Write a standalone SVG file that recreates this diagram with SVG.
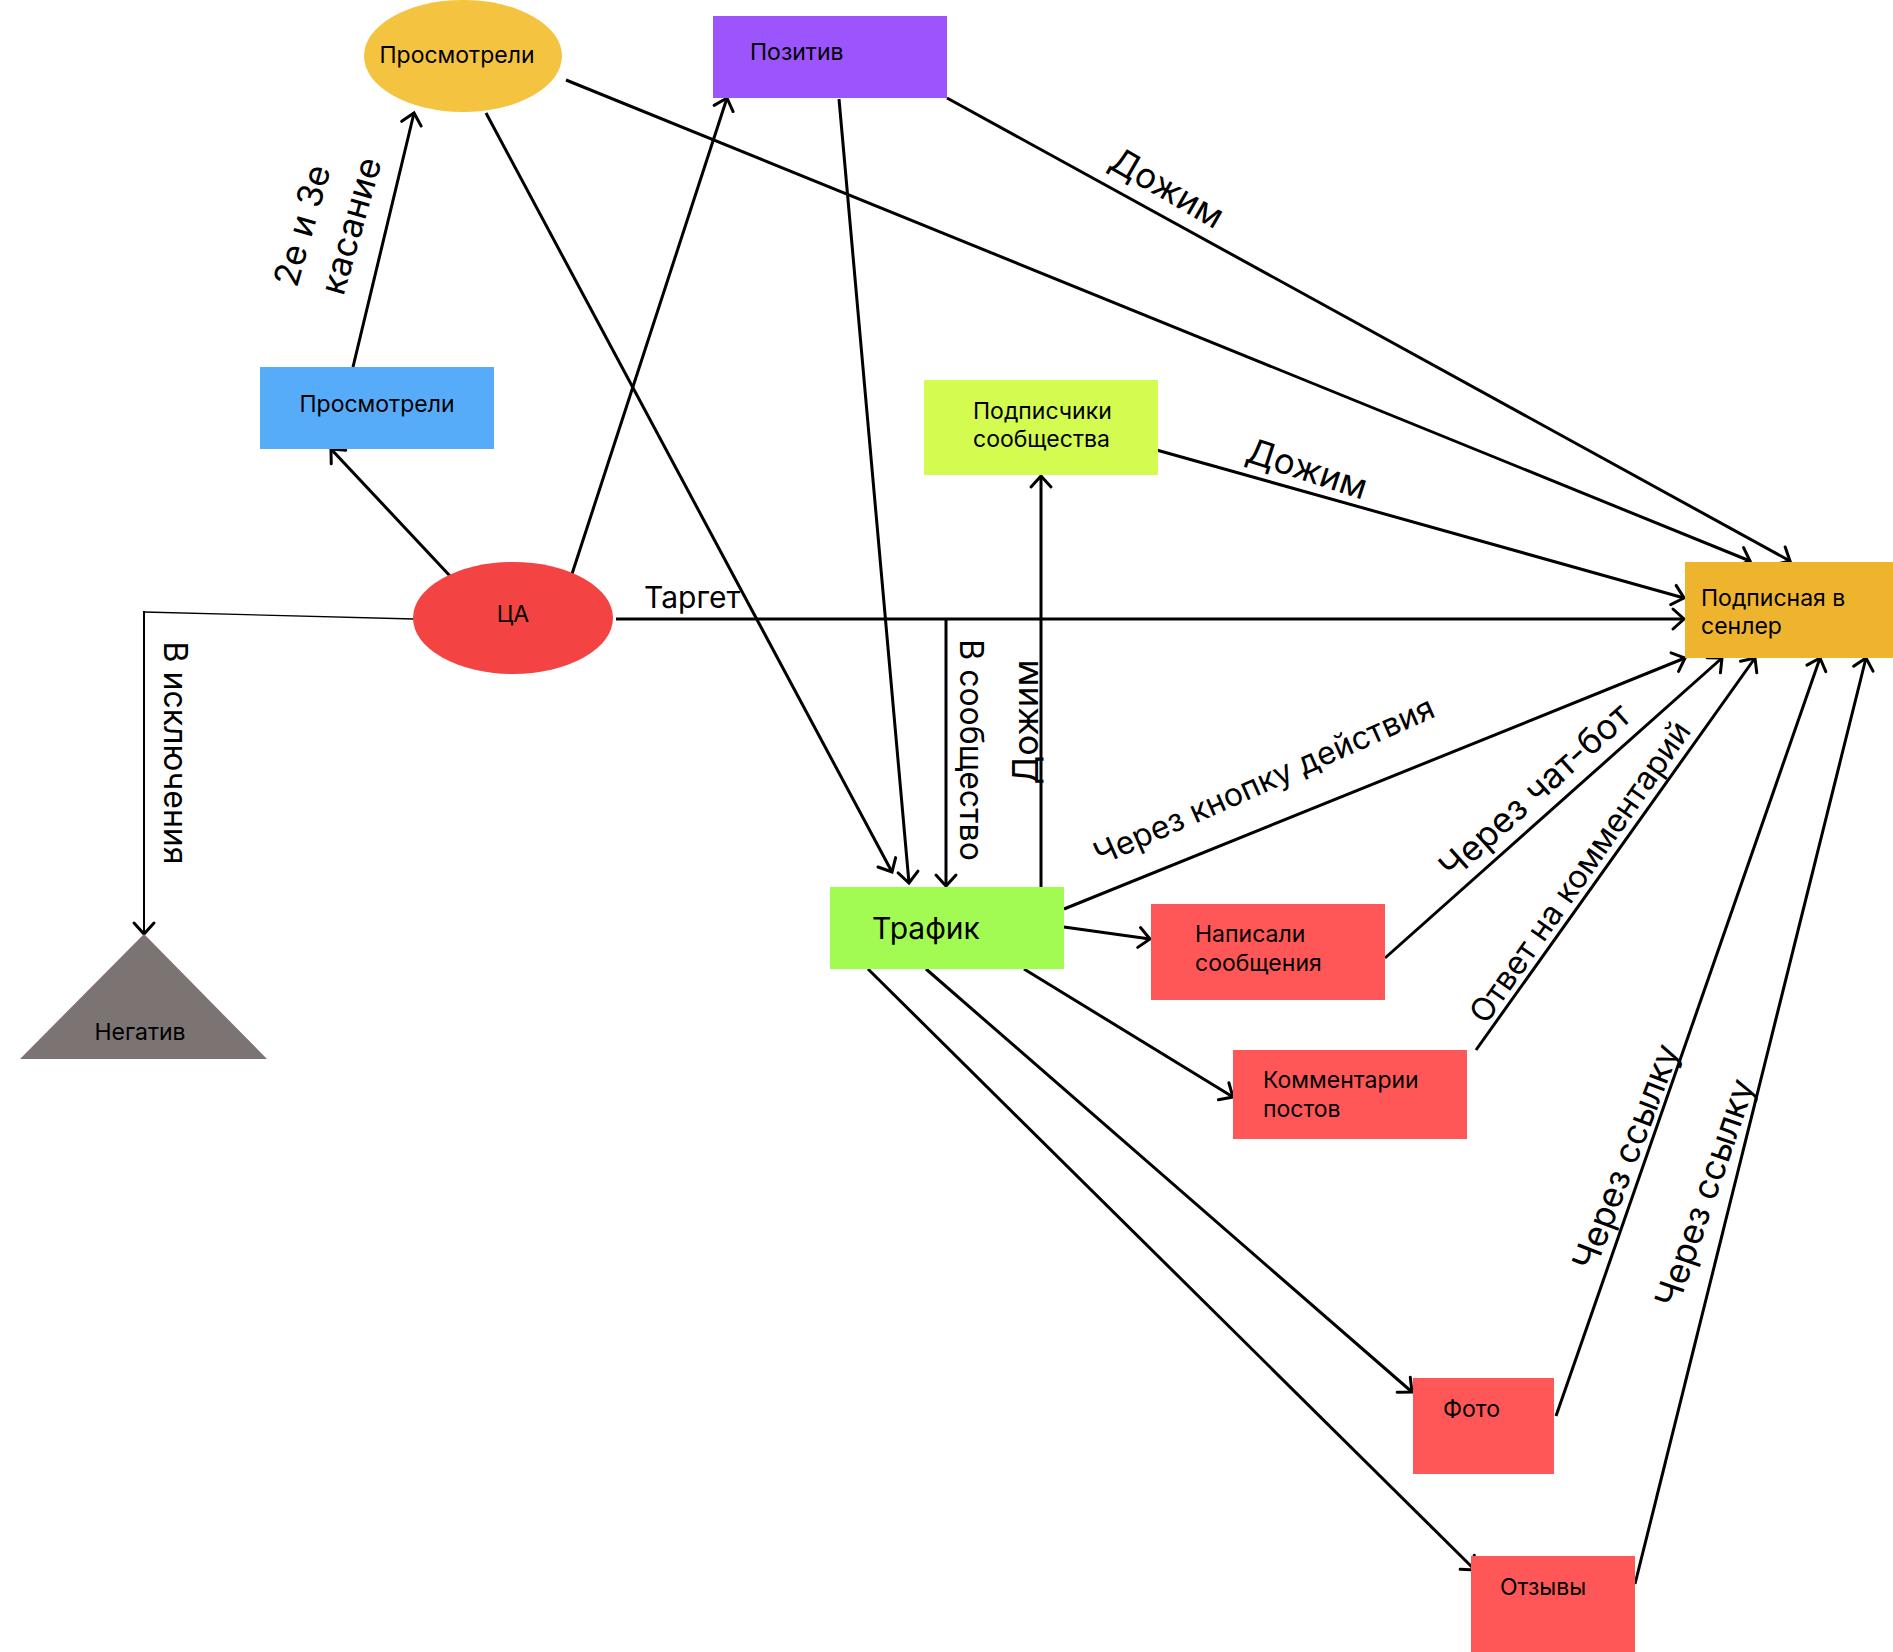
<svg xmlns="http://www.w3.org/2000/svg" width="1893" height="1652" viewBox="0 0 1893 1652">
<defs>
<marker id="arr" markerUnits="userSpaceOnUse" viewBox="-3 -3 18 26" refX="11" refY="10" markerWidth="18" markerHeight="26" orient="auto">
<path d="M0,0 L11,10 L0,20" fill="none" stroke="#000" stroke-width="3" stroke-linecap="round" stroke-linejoin="miter"/>
</marker>
<style>
.n{font-family:Inter,"Noto Sans","Liberation Sans",sans-serif;font-size:23px;fill:#000}
.l{font-family:Inter,"Noto Sans","Liberation Sans",sans-serif;font-size:32px;fill:#000}
.b{font-size:35px}
.ca{fill:none;stroke:#000;stroke-width:3;marker-end:url(#arr)}
</style>
</defs>
<rect width="1893" height="1652" fill="#fff"/>

<g id="connectors">
<line class="ca" x1="353" y1="367" x2="414" y2="113"/>
<line class="ca" x1="451" y1="577" x2="331" y2="449"/>
<line class="ca" x1="571" y1="577" x2="727" y2="98"/>
<line class="ca" x1="486" y1="113" x2="892" y2="872"/>
<line class="ca" x1="839" y1="99" x2="909" y2="883"/>
<line class="ca" x1="566" y1="80" x2="1750" y2="561"/>
<line class="ca" x1="947" y1="98" x2="1790" y2="561"/>
<line class="ca" x1="1153" y1="449" x2="1684" y2="598"/>
<line class="ca" x1="616" y1="619" x2="1684" y2="619"/>
<line x1="414" y1="619" x2="144" y2="612" stroke="#000" stroke-width="1.3"/>
<line x1="144" y1="611" x2="144" y2="934" stroke="#000" stroke-width="2" marker-end="url(#arr)"/>
<line class="ca" x1="946" y1="619" x2="946" y2="886"/>
<line class="ca" x1="1041" y1="887" x2="1041" y2="476"/>
<line class="ca" x1="1064" y1="909" x2="1685" y2="658"/>
<line class="ca" x1="1064" y1="927" x2="1150" y2="939"/>
<line class="ca" x1="1385" y1="958" x2="1722" y2="658"/>
<line class="ca" x1="1476" y1="1050" x2="1755" y2="658"/>
<line class="ca" x1="1024" y1="969" x2="1233" y2="1097"/>
<line class="ca" x1="926" y1="969" x2="1412" y2="1392"/>
<line class="ca" x1="868" y1="969" x2="1475" y2="1570"/>
<line class="ca" x1="1556" y1="1416" x2="1820" y2="658"/>
<line class="ca" x1="1635" y1="1584" x2="1866" y2="658"/>

<g transform="translate(326,226) rotate(-74)">
<text class="l b" x="-6" y="-11" text-anchor="middle">2е и 3е</text>
<text class="l b" x="7" y="36" text-anchor="middle">касание</text>
</g>
<text class="l" x="644" y="608" style="font-size:30px">Таргет</text>
<text class="l b" transform="translate(1167,188) rotate(30)" x="0" y="12" text-anchor="middle">Дожим</text>
<text class="l b" transform="translate(1307,469) rotate(18)" x="0" y="12" text-anchor="middle">Дожим</text>
<text class="l" transform="translate(175,753) rotate(90)" x="0" y="11" text-anchor="middle">В исключения</text>
<text class="l" transform="translate(971,750) rotate(90)" x="0" y="11" text-anchor="middle">В сообщество</text>
<text class="l b" transform="translate(1026,722) rotate(-90)" x="0" y="12" text-anchor="middle">Дожим</text>
<text class="l" transform="translate(1264,781) rotate(-24)" x="0" y="11" text-anchor="middle">Через кнопку действия</text>
<text class="l b" transform="translate(1535,791) rotate(-42)" x="0" y="12" text-anchor="middle">Через чат-бот</text>
<text class="l" transform="translate(1580,872) rotate(-55)" x="0" y="11" text-anchor="middle">Ответ на комментарий</text>
<text class="l b" transform="translate(1626,1157) rotate(-69)" x="0" y="12" text-anchor="middle">Через ссылку</text>
<text class="l b" transform="translate(1705,1193) rotate(-71)" x="0" y="12" text-anchor="middle">Через ссылку</text>
</g>

<g id="node-prosm-ellipse">
<ellipse cx="463" cy="56" rx="99" ry="56" fill="#F4C340"/>
<text class="n" x="457" y="63" text-anchor="middle">Просмотрели</text>
</g>
<g id="node-pozitiv">
<rect x="713" y="16" width="234" height="82" fill="#9C55FD"/>
<text class="n" x="750" y="60">Позитив</text>
</g>
<g id="node-prosm-rect">
<rect x="260" y="367" width="234" height="82" fill="#56ACF9"/>
<text class="n" x="377" y="412" text-anchor="middle">Просмотрели</text>
</g>
<g id="node-podpischiki">
<rect x="924" y="380" width="234" height="95" fill="#D4FB4F"/>
<text class="n" x="973" y="419">Подписчики</text>
<text class="n" x="973" y="447">сообщества</text>
</g>
<g id="node-ca">
<ellipse cx="513" cy="618" rx="100" ry="56" fill="#F44343"/>
<text class="n" x="513" y="622" text-anchor="middle">ЦА</text>
</g>
<g id="node-podpisnaya">
<rect x="1685" y="562" width="208" height="96" fill="#EEB42D"/>
<text class="n" x="1701" y="606">Подписная в</text>
<text class="n" x="1701" y="634">сенлер</text>
</g>
<g id="node-negativ">
<polygon points="144,934 20,1059 267,1059" fill="#7B7473"/>
<text class="n" x="140" y="1040" text-anchor="middle">Негатив</text>
</g>
<g id="node-trafik">
<rect x="830" y="887" width="234" height="82" fill="#A2FB53"/>
<text class="n" x="872" y="939" style="font-size:30px">Трафик</text>
</g>
<g id="node-napisali">
<rect x="1151" y="904" width="234" height="96" fill="#FF5757"/>
<text class="n" x="1195" y="942">Написали</text>
<text class="n" x="1195" y="971">сообщения</text>
</g>
<g id="node-kommentarii">
<rect x="1233" y="1050" width="234" height="89" fill="#FF5757"/>
<text class="n" x="1263" y="1088">Комментарии</text>
<text class="n" x="1263" y="1117">постов</text>
</g>
<g id="node-foto">
<rect x="1413" y="1378" width="141" height="96" fill="#FF5757"/>
<text class="n" x="1443" y="1417">Фото</text>
</g>
<g id="node-otzyvy">
<rect x="1471" y="1556" width="164" height="96" fill="#FF5757"/>
<text class="n" x="1500" y="1595">Отзывы</text>
</g>
</svg>
